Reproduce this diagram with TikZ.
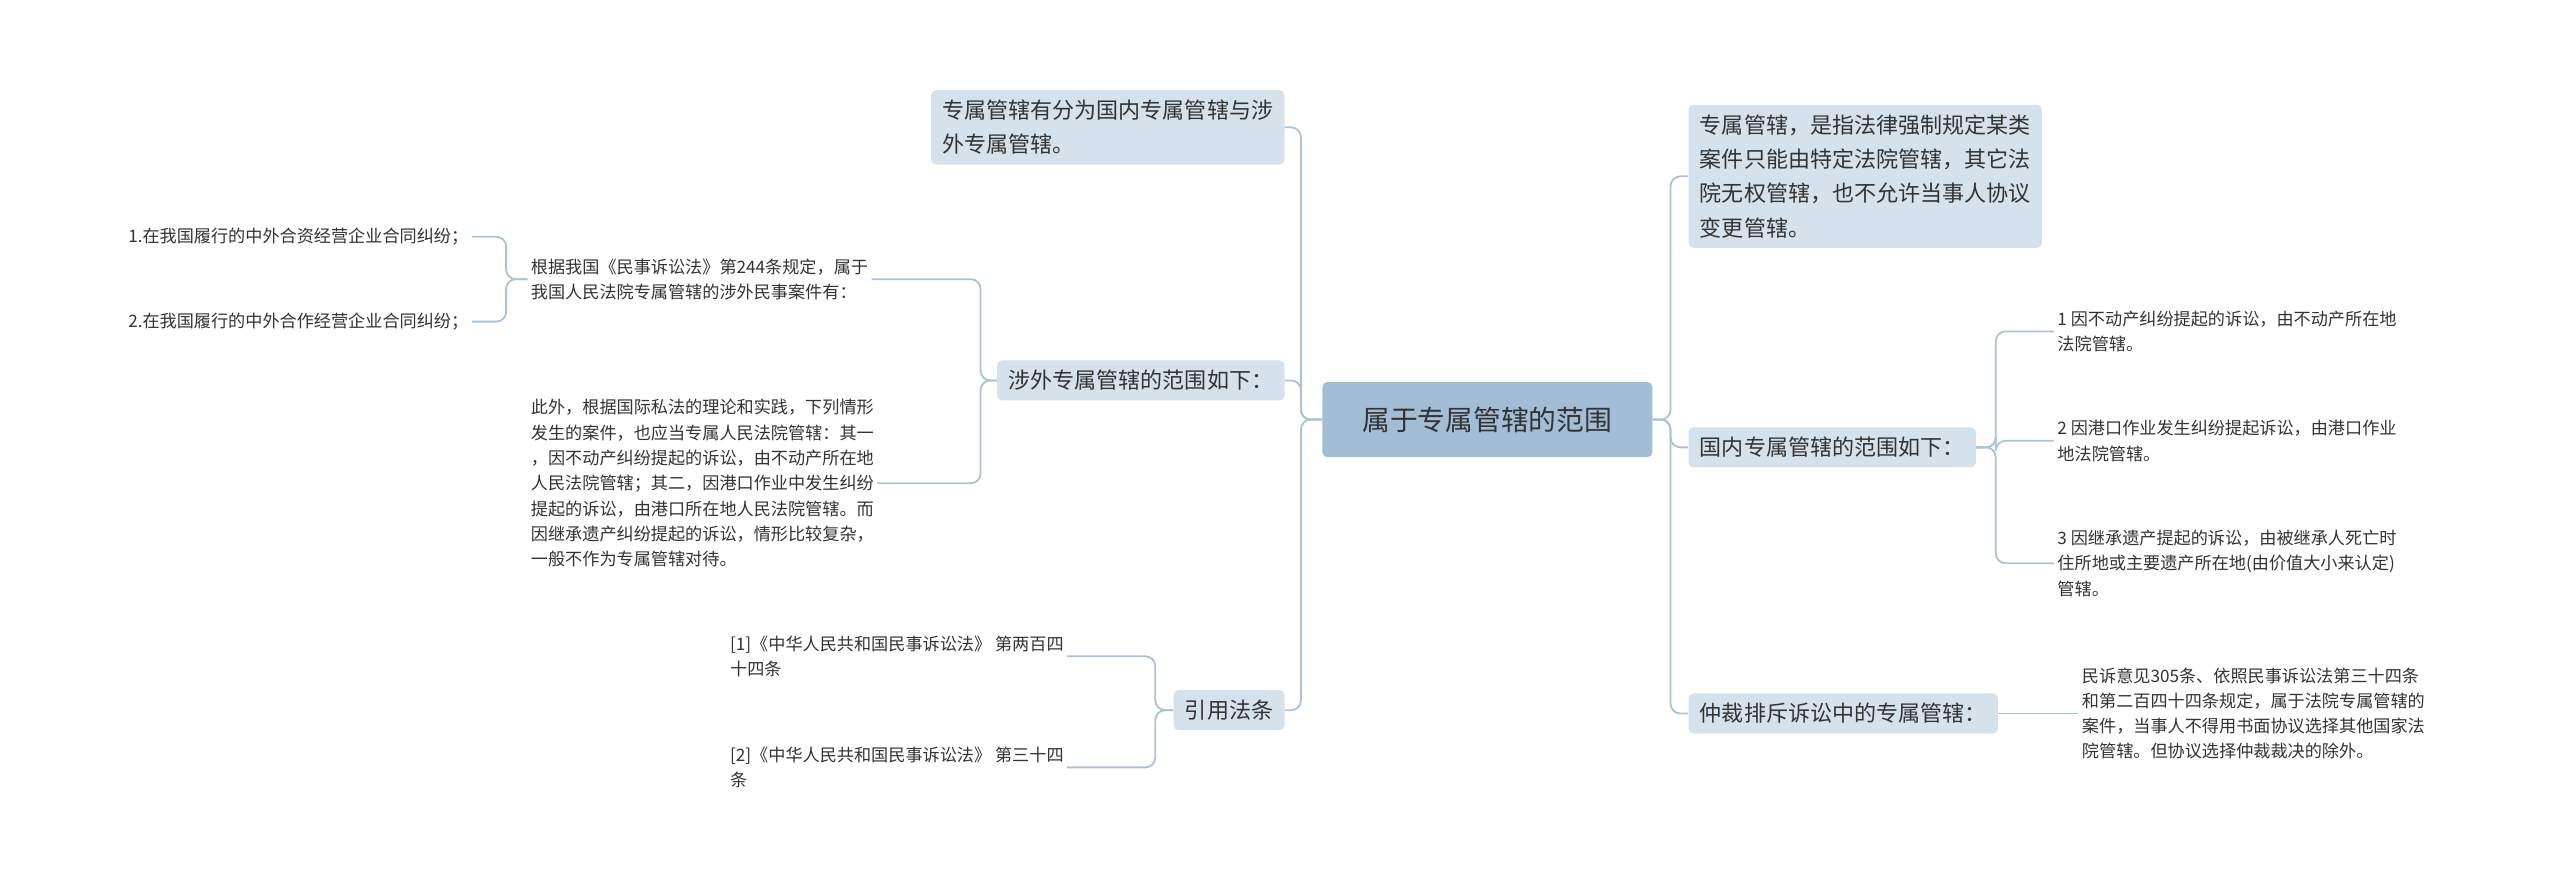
\documentclass[tikz,border=0pt]{standalone}
\usepackage{fontspec}
\setmainfont{Noto Sans CJK SC}
\begin{document}
\begin{tikzpicture}[x=1pt,y=-1pt,
  box/.style={fill=boxc,rounded corners=3pt,inner xsep=7pt,inner ysep=6pt,align=left,text=txt,font=\fontsize{13.5}{21}\selectfont},
  leaf/.style={inner sep=2pt,align=left,text=txt,font=\fontsize{10.5}{15.5}\selectfont},
  ln/.style={draw=linec,line width=1.1pt,rounded corners=6pt}]
\definecolor{boxc}{HTML}{D5E1EB}
\definecolor{rootc}{HTML}{A3BDD6}
\definecolor{linec}{HTML}{A9C3D8}
\definecolor{txt}{HTML}{333333}
\useasboundingbox (0,0) rectangle (1568,541);
\fill[white] (0,0) rectangle (1568,541);
\node[box,fill=rootc,minimum width=202pt,minimum height=46pt,font=\fontsize{17}{22}\selectfont] (R) at (911,257) {属于专属管辖的范围};
\node[box,anchor=east] (A) at (787,78) {专属管辖有分为国内专属管辖与涉\\外专属管辖。};
\node[box,anchor=east] (B) at (787,233) {涉外专属管辖的范围如下：};
\node[box,anchor=east] (C) at (787,435) {引用法条};
\node[box,anchor=west] (D) at (1034,108) {专属管辖，是指法律强制规定某类\\案件只能由特定法院管辖，其它法\\院无权管辖，也不允许当事人协议\\变更管辖。};
\node[box,anchor=west] (E) at (1034,274) {国内专属管辖的范围如下：};
\node[box,anchor=west] (F) at (1034,437) {仲裁排斥诉讼中的专属管辖：};
\node[leaf,anchor=west] (B1) at (323,171) {根据我国《民事诉讼法》第244条规定，属于\\我国人民法院专属管辖的涉外民事案件有：};
\node[leaf,anchor=west] (B2) at (323,296) {此外，根据国际私法的理论和实践，下列情形\\发生的案件，也应当专属人民法院管辖：其一\\，因不动产纠纷提起的诉讼，由不动产所在地\\人民法院管辖；其二，因港口作业中发生纠纷\\提起的诉讼，由港口所在地人民法院管辖。而\\因继承遗产纠纷提起的诉讼，情形比较复杂，\\一般不作为专属管辖对待。};
\node[leaf,anchor=east] (B11) at (289,145) {1.在我国履行的中外合资经营企业合同纠纷；};
\node[leaf,anchor=east] (B12) at (289,197) {2.在我国履行的中外合作经营企业合同纠纷；};
\node[leaf,anchor=west] (C1) at (445,402) {[1]《中华人民共和国民事诉讼法》 第两百四\\十四条};
\node[leaf,anchor=west] (C2) at (445,470) {[2]《中华人民共和国民事诉讼法》 第三十四\\条};
\node[leaf,anchor=west] (E1) at (1258,203) {1 因不动产纠纷提起的诉讼，由不动产所在地\\法院管辖。};
\node[leaf,anchor=west] (E2) at (1258,270) {2 因港口作业发生纠纷提起诉讼，由港口作业\\地法院管辖。};
\node[leaf,anchor=west] (E3) at (1258,345) {3 因继承遗产提起的诉讼，由被继承人死亡时\\住所地或主要遗产所在地(由价值大小来认定)\\管辖。};
\node[leaf,anchor=west] (F1) at (1273,437) {民诉意见305条、依照民事诉讼法第三十四条\\和第二百四十四条规定，属于法院专属管辖的\\案件，当事人不得用书面协议选择其他国家法\\院管辖。但协议选择仲裁裁决的除外。};
\foreach \t in {A,B,C} \draw[ln] (R.west) -- ++(-13,0) |- (\t.east);
\foreach \t in {D,E,F} \draw[ln] (R.east) -- ++(11,0) |- (\t.west);
\foreach \t in {B1,B2} \draw[ln] (B.west) -- ++(-10,0) |- (\t.east);
\foreach \t in {B11,B12} \draw[ln] (B1.west) -- ++(-13,0) |- (\t.east);
\foreach \t in {C1,C2} \draw[ln] (C.west) -- ++(-11,0) |- (\t.east);
\foreach \t in {E1,E2,E3} \draw[ln] (E.east) -- ++(12,0) |- (\t.west);
\draw[ln] (F.east) -- (F1.west);
\end{tikzpicture}
\end{document}
